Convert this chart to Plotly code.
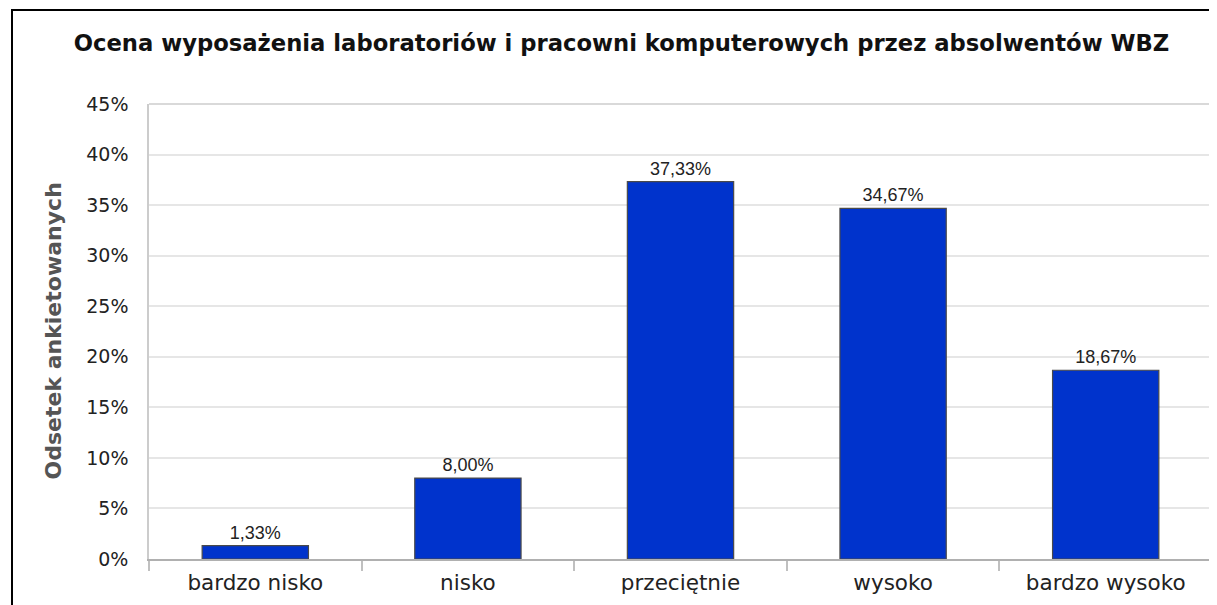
import plotly.graph_objects as go

categories = ["bardzo nisko", "nisko", "przeciętnie", "wysoko", "bardzo wysoko"]
values = [1.33, 8.00, 37.33, 34.67, 18.67]
labels = ["1,33%", "8,00%", "37,33%", "34,67%", "18,67%"]
tick_vals = [0, 5, 10, 15, 20, 25, 30, 35, 40, 45]
tick_text = [f"{v}%" for v in tick_vals]

# page body has an 8px margin; compensate so the picture lines up
OFF = 8
W, H = 1217 - OFF, 605 - OFF
L, T = 149 - OFF, 104 - OFF
R = W - (1212 - OFF)
B = H - (559 - OFF)
pw, ph = W - L - R, H - T - B

fig = go.Figure(go.Bar(
    x=categories, y=values,
    text=labels, textposition="outside",
    textfont=dict(family="Liberation Sans", size=18, color="#222222"),
    cliponaxis=False,
    marker=dict(color="#0033CC", line=dict(color="#4a4a4a", width=1.2)),
))

fig.update_layout(
    width=W, height=H,
    margin=dict(l=L, r=R, t=T, b=B, autoexpand=False),
    paper_bgcolor="white", plot_bgcolor="white",
    bargap=0.5, showlegend=False,
    font=dict(family="DejaVu Sans", color="#222222"),
    title=dict(text="<b>Ocena wyposażenia laboratoriów i pracowni komputerowych przez absolwentów WBZ</b>",
               x=(621.5 - OFF) / W, xanchor="center", y=1 - (43 - OFF) / H, yanchor="middle",
               font=dict(family="DejaVu Sans", size=22.7, color="#111111")),
    xaxis=dict(
        type="category", showgrid=False, showline=True, linecolor="#b0b0b0", linewidth=1.5,
        ticks="outside", tickson="boundaries", ticklen=10, tickcolor="#c0c0c0", tickwidth=1.5,
        ticklabelstandoff=3,
        tickfont=dict(family="DejaVu Sans", size=21.5, color="#222222"),
    ),
    yaxis=dict(
        range=[0, 45], tickvals=tick_vals, ticktext=tick_text,
        showgrid=True, gridcolor="#e6e6e6", gridwidth=1.5,
        showline=True, linecolor="#cccccc", linewidth=1.5,
        ticks="outside", ticklen=15, tickcolor="rgba(0,0,0,0)",
        tickfont=dict(family="DejaVu Sans", size=19, color="#222222"),
        zeroline=False,
    ),
)

# plot-area frame (top and right sides)
fig.add_shape(type="line", xref="paper", yref="paper", x0=0, x1=1, y0=1, y1=1,
              line=dict(color="#cccccc", width=1.5))
fig.add_shape(type="line", xref="paper", yref="paper", x0=1, x1=1, y0=0, y1=1,
              line=dict(color="#cccccc", width=1.5))

# outer black frame
fig.add_shape(type="rect", xref="paper", yref="paper",
              x0=(12 - OFF - L) / pw, x1=(W + 10 - L) / pw,
              y0=-(B + 10) / ph, y1=1 + (T - (10 - OFF)) / ph,
              line=dict(color="black", width=2), layer="above")

fig.add_annotation(text="<b>Odsetek ankietowanych</b>", textangle=-90,
                   xref="paper", yref="paper", x=(53 - OFF - L) / pw, y=0.5,
                   xanchor="center", yanchor="middle", showarrow=False,
                   font=dict(family="DejaVu Sans", size=22, color="#555555"))

fig.write_html("out.html")
